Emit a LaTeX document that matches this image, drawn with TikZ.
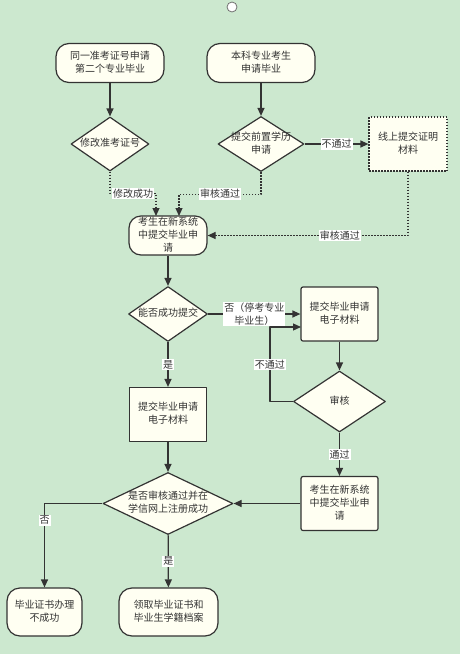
\documentclass[tikz,border=0pt]{standalone}
\usepackage{fontspec}
\setmainfont{Noto Sans CJK SC}
\usetikzlibrary{shapes.geometric,arrows.meta}
\definecolor{bg}{RGB}{204,232,207}
\definecolor{nd}{RGB}{255,255,242}
\definecolor{ln}{RGB}{51,51,51}
\newcommand\tx[1]{\makebox[0pt]{\begin{tabular}{@{}c@{}}#1\end{tabular}}}
\begin{document}
\begin{tikzpicture}[x=1pt,y=-1pt,>={Triangle[length=8pt,width=7pt]},line join=round,
    every node/.style={font=\fontsize{10}{13}\selectfont,text=ln},
    box/.style={draw=ln,fill=nd,line width=1.2pt,inner sep=0pt},
    term/.style={box,rounded corners=13pt},
    dia/.style={box,diamond},
    lab/.style={fill=white,inner sep=1pt,align=center},
    arr/.style={->,draw=ln,line width=1.2pt},
    dotarr/.style={arr,dash pattern=on 1.5pt off 1.5pt}]
    \fill[bg] (0,0) rectangle (460,654);
    \useasboundingbox (0,0) rectangle (460,654);
    \node[circle,draw=ln!70,fill=white,line width=0.8pt,minimum size=10pt,inner sep=0pt] (st) at (232,7) {};
    \node[term,minimum width=108,minimum height=39] (a) at (110,63) {\tx{同一准考证号申请\\第二个专业毕业}};
    \node[term,minimum width=108,minimum height=39] (b) at (261,63) {\tx{本科专业考生\\申请毕业}};
    \node[dia,minimum width=78,minimum height=54] (d1) at (110,144) {\tx{修改准考证号}};
    \node[dia,minimum width=86,minimum height=55] (d2) at (261,144) {\tx{提交前置学历\\申请}};
    \node[box,dash pattern=on 1.5pt off 1.5pt,minimum width=78,minimum height=54] (c) at (408,144) {\tx{线上提交证明\\材料}};
    \node[term,rounded corners=12pt,minimum width=78,minimum height=39] (e) at (168,235.5) {\tx{考生在新系统\\中提交毕业申\\请}};
    \node[dia,minimum width=79,minimum height=55] (d3) at (168,314) {\tx{能否成功提交}};
    \node[box,rounded corners=2pt,minimum width=77,minimum height=54] (f) at (339.5,314) {\tx{提交毕业申请\\电子材料}};
    \node[dia,minimum width=92,minimum height=61] (d4) at (339.5,401.5) {\tx{审核}};
    \node[box,minimum width=77,minimum height=54] (h) at (168,414.5) {\tx{提交毕业申请\\电子材料}};
    \node[dia,minimum width=130,minimum height=62] (d5) at (168,503.5) {\tx{是否审核通过并在\\学信网上注册成功}};
    \node[box,rounded corners=2pt,minimum width=77,minimum height=54] (g) at (339.5,503.5) {\tx{考生在新系统\\中提交毕业申\\请}};
    \node[term,minimum width=75,minimum height=48] (i) at (44.5,612) {\tx{毕业证书办理\\不成功}};
    \node[term,minimum width=99,minimum height=48] (j) at (168.5,612) {\tx{领取毕业证书和\\毕业生学籍档案}};
    \coordinate (e1) at (156,216);
    \coordinate (e2) at (179,216);
    \coordinate (f2) at (301,327);
    \foreach \a/\b in {a/d1,b/d2,e/d3,f/d4,h/d5,g/d5}
    \draw[arr] (\a) -- (\b);
    \foreach \a/\b/\t in {d2/c/不通过,d3/f/{否（停考专业\\毕业生）},d3/h/是,d4/g/通过,d5/j/是}
    \draw[arr] (\a) -- node[lab]{\t} (\b);
    \draw[dotarr] (d1.south) -- ++(0,22) -| node[pos=0.25,lab]{修改成功} (e1);
    \draw[dotarr] (d2.south) -- ++(0,22) -| node[pos=0.25,lab]{审核通过} (e2);
    \draw[dotarr] (c.south) |- node[pos=0.67,lab]{审核通过} (e.east);
    \draw[arr] (d4.west) -- ++(-23,0) |- node[pos=0.25,lab]{不通过} (f2);
    \draw[arr] (d5.west) -| node[pos=0.6,lab]{否} (i.north);
\end{tikzpicture}
\end{document}
